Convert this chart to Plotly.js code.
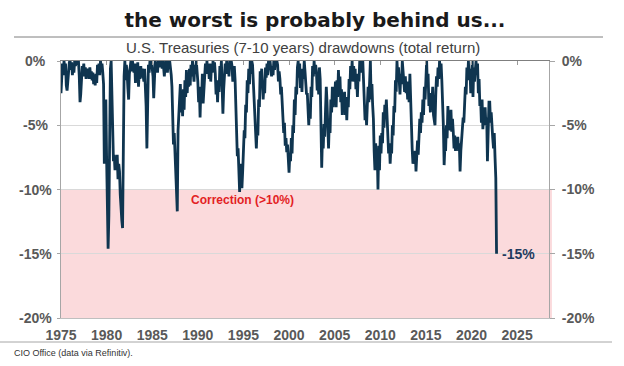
<!DOCTYPE html>
<html><head><meta charset="utf-8">
<script src="https://cdn.plot.ly/plotly-3.0.1.min.js"></script>
<style>html,body{margin:0;padding:0;background:#fff}#chart{width:624px;height:366px}</style>
</head><body><div id="chart"></div>
<script>
// Monthly drawdowns (%), starting January 1975
const dd1975s = [
 -2.5,-1.0,-0.2,-1.1,0,-0.5,-0.2,-1.9,-2.3,-1.6,-0.6,-0.1,
 0,-0.7,-0.1,-1.1,-0.4,-0.9,0,-0.4,0,-0.3,0,0,
 -1.2,-3.2,-2.6,-1.7,-0.4,-0.8,-0.2,-1.2,-0.5,-1.4,-0.6,-1.0,
 -0.6,-1.4,-0.5,-1.2,-0.8,-1.5,-0.9,-1.8,-1.2,-1.9,-1.0,-1.7,
 -0.3,-1.0,-0.2,-1.1,0,-0.5,-0.2,-0.9,-1.8,-8.0,-6.0,-3.0
];
const dd1980s = [
 -7.5,-12.0,-14.6,-12.0,-5.0,-0.6,0,-3.5,-7.3,-7.8,-7.3,-8.5,
 -7.8,-8.4,-7.3,-9.2,-8.0,-8.6,-10.4,-11.8,-12.4,-13.0,-4.0,-1.2,
 0,-1.5,-0.3,-0.9,-2.1,-3.0,-1.0,-0.2,0,-0.8,0,-0.4,
 -0.9,-0.2,-1.7,-0.4,-0.9,-0.1,-2.0,-0.8,-1.4,-0.4,-1.3,-0.6,
 -1.0,-1.6,-0.6,-1.8,-3.5,-6.8,-2.4,-0.3,-0.9,0,-0.5,0,
 -0.6,-1.2,-2.9,-1.0,0,-0.7,-0.1,-0.9,0,-0.5,0,-0.3,
 0,-0.6,0,-0.5,-1.2,-0.3,0,-0.6,-0.9,0,-0.4,0,
 -0.5,-1.1,-2.0,-5.2,-6.5,-5.6,-7.4,-8.1,-10.0,-11.7,-5.4,-4.1,
 -3.0,-1.8,-4.0,-2.6,-4.3,-2.2,-3.8,-1.5,-2.8,-0.7,-2.5,-1.2,
 -2.0,-0.6,-1.9,-0.3,-1.2,0,-0.8,-1.6,-0.3,-1.0,0,-0.6
];
const dd1990s = [
 -1.6,-3.2,-2.0,-4.4,-2.2,-3.0,-1.0,-3.3,-2.1,-1.2,-0.2,-0.9,
 0,-1.0,-0.3,-1.4,-0.2,-1.6,-0.4,-0.9,0,-0.7,-0.1,-1.0,
 -2.6,-1.6,-3.2,-1.5,-2.4,-0.4,-1.2,0,-1.4,-4.1,-2.2,-1.0,
 -0.2,-0.9,0,-1.0,-0.3,-1.2,0,-0.6,0,-0.4,-1.6,-0.8,
 -0.4,-1.5,-3.6,-6.5,-7.4,-6.8,-8.4,-10.2,-8.0,-9.4,-9.9,-8.6,
 -7.0,-5.4,-6.0,-3.4,-4.0,-1.5,-2.5,-0.6,-1.8,0,-1.0,0,
 -0.3,-1.6,-3.4,-4.6,-5.4,-6.8,-5.2,-5.8,-3.0,-3.6,-0.8,-1.5,
 -0.6,-2.0,-3.0,-1.8,-2.5,-0.5,-1.3,-0.2,-1.1,0,-0.6,0,
 -0.5,-1.2,-0.4,-1.1,0,-0.7,0,-0.4,0,-0.3,-1.6,-0.8,
 -1.4,-2.6,-2.0,-3.1,-4.0,-5.6,-4.8,-6.6,-6.0,-7.1,-6.5,-8.4
];
const dd2000s = [
 -8.7,-7.2,-7.8,-6.0,-7.2,-5.0,-5.6,-3.0,-4.2,-2.0,-2.6,-0.5,
 0,-1.3,-0.2,-2.1,-1.0,-2.4,-0.6,-1.4,0,-0.8,-1.6,-2.6,
 -2.5,-4.0,-5.0,-3.4,-4.5,-2.0,-2.8,-0.4,-1.2,0,-1.0,-0.3,
 -0.8,-2.3,-1.2,-2.6,-0.5,-1.4,-4.5,-8.3,-5.8,-6.8,-4.9,-5.9,
 -3.8,-2.0,-3.2,-5.5,-6.8,-4.6,-5.6,-3.0,-4.0,-2.0,-3.6,-2.0,
 -3.0,-1.6,-3.6,-1.5,-2.8,-0.7,-2.3,-1.2,-3.2,-2.2,-4.2,-2.5,
 -3.6,-2.4,-4.2,-3.0,-4.6,-2.8,-3.6,-1.4,-2.2,-0.4,-1.2,0,
 -1.6,-0.4,-1.2,-0.6,-2.2,-1.4,-2.8,-1.0,-1.6,0,-0.8,0,
 -0.9,0,-1.2,-3.5,-4.6,-3.6,-5.0,-3.4,-2.0,-3.2,-0.6,0,
 -3.0,-1.8,-3.4,-4.5,-7.0,-8.5,-6.4,-8.0,-7.0,-10.0,-6.6,-8.5
];
const dd2010s = [
 -5.8,-7.2,-5.6,-6.4,-4.0,-5.2,-3.4,-4.2,-3.0,-4.6,-6.0,-7.2,
 -6.4,-8.0,-6.8,-7.2,-5.0,-5.8,-3.5,-4.0,-1.5,-2.4,0,-1.2,
 -0.5,-2.0,-2.6,-1.0,-1.8,0,-0.8,-1.8,-2.4,-1.2,-2.5,-1.6,
 -3.0,-2.2,-3.2,-1.0,-3.5,-6.0,-6.8,-8.0,-7.2,-7.6,-7.0,-8.6,
 -7.0,-6.2,-7.3,-5.5,-4.5,-5.6,-4.0,-4.8,-3.0,-4.2,-2.0,-3.0,
 -0.5,0,-2.0,-1.0,-3.5,-2.6,-4.0,-2.5,-3.2,-2.0,-4.2,-4.8,
 -5.0,-2.6,-1.2,-2.0,-0.5,-1.4,0,-0.8,-0.2,-1.5,-3.0,-5.0,
 -8.1,-6.6,-7.0,-5.0,-6.0,-3.5,-5.2,-4.0,-5.4,-3.8,-5.5,-4.5,
 -5.5,-6.8,-5.8,-7.0,-6.0,-6.8,-5.9,-7.0,-6.4,-8.6,-7.0,-6.2,
 -5.5,-4.4,-4.8,-3.5,-2.0,-2.6,-0.5,-1.4,0,-1.5,-0.6,-2.5
];
const dd2020s = [
 -1.5,0,-2.8,-0.5,-1.6,-0.3,0,-1.0,-0.2,-2.5,-1.4,-3.5,
 -3.0,-4.8,-3.0,-5.3,-4.2,-4.8,-3.6,-5.0,-4.4,-7.8,-4.0,-3.2,
 -3.2,-4.8,-4.0,-5.5,-6.0,-6.8,-5.6,-7.5,-9.1,-15.0
];
const firstYear = 1975;
const xTickYears = [1975,1980,1985,1990,1995,2000,2005,2010,2015,2020,2025];
const yTickVals = [0,-5,-10,-15,-20];
const yTickText = ['0%','-5%','-10%','-15%','-20%'];
const titleText = 'the worst is probably behind us...';
const subtitleText = 'U.S. Treasuries (7-10 years) drawdowns (total return)';
const sourceText = 'CIO Office (data via Refinitiv).';
const correctionText = 'Correction (>10%)';
const correctionLevel = -10;
const lastLabel = '-15%';

const values = [].concat(dd1975s, dd1980s, dd1990s, dd2000s, dd2010s, dd2020s);
const dates = values.map((v, i) => {
  const y = firstYear + Math.floor(i / 12);
  const m = (i % 12) + 1;
  return y + '-' + (m < 10 ? '0' + m : m) + '-01';
});
const lastDate = dates[dates.length - 1];
const lastValue = values[values.length - 1];

const tickFont = {family: 'Liberation Sans, Arial, sans-serif', size: 14, color: '#595959', weight: 700};
const xRange = ['1975-01-01', '2028-07-01'];
const xTickVals = xTickYears.map(y => y + '-01-01');
const xTickText = xTickYears.map(String);

const traces = [
  {x: dates, y: values, type: 'scatter', mode: 'lines', line: {color: '#0f3550', width: 2.8}, hoverinfo: 'skip', xaxis: 'x', yaxis: 'y'},
  {x: [], y: [], type: 'scatter', mode: 'lines', xaxis: 'x2', yaxis: 'y', hoverinfo: 'skip'},
  {x: [], y: [], type: 'scatter', mode: 'lines', xaxis: 'x', yaxis: 'y2', hoverinfo: 'skip'}
];

const px = v => (v - 61) / 488;   // paper x from pixel
const py = v => (318 - v) / 257;  // paper y from pixel

const annotations = [
  {text: subtitleText, xref: 'paper', yref: 'paper', x: px(303), y: py(48), xanchor: 'center', yanchor: 'middle', showarrow: false,
   font: {family: 'Liberation Sans, Arial, sans-serif', size: 15, color: '#404040'}},
  {text: sourceText, xref: 'paper', yref: 'paper', x: px(12), y: py(353), xanchor: 'left', yanchor: 'middle', showarrow: false,
   font: {family: 'Liberation Sans, Arial, sans-serif', size: 9, color: '#333333'}},
  {text: correctionText, xref: 'paper', yref: 'y', x: px(189), y: -10.8, xanchor: 'left', yanchor: 'middle', showarrow: false,
   font: {family: 'Liberation Sans, Arial, sans-serif', size: 12, color: '#e31e24', weight: 700}},
  {text: lastLabel, xref: 'x', yref: 'y', x: lastDate, y: lastValue, xanchor: 'left', yanchor: 'middle', xshift: 3, showarrow: false,
   font: {family: 'Liberation Sans, Arial, sans-serif', size: 14, color: '#1f3a5f', weight: 700}}
];
yTickVals.forEach((v, i) => {
  annotations.push({text: yTickText[i], xref: 'paper', yref: 'y', x: px(35), y: v, xanchor: 'center', yanchor: 'middle', showarrow: false, font: tickFont});
});

const layout = {
  width: 624, height: 366,
  margin: {l: 61, r: 75, t: 61, b: 48, pad: 0},
  paper_bgcolor: '#ffffff', plot_bgcolor: 'rgba(0,0,0,0)',
  showlegend: false,
  title: {text: titleText, xref: 'container', yref: 'container', x: 315 / 624, xanchor: 'center', y: 1 - 20 / 366, yanchor: 'middle',
          font: {family: 'DejaVu Sans, sans-serif', size: 20, weight: 700, color: '#1a1a1a'}},
  xaxis: {type: 'date', range: xRange, side: 'top', ticks: 'inside', ticklen: 4, tickcolor: '#9a9a9a', tickvals: xTickVals,
          showticklabels: false, showline: true, linecolor: '#7f7f7f', linewidth: 1, showgrid: false, zeroline: false, fixedrange: true},
  xaxis2: {type: 'date', range: xRange, overlaying: 'x', side: 'bottom', anchor: 'y', showline: true, linecolor: '#bfbfbf', ticks: '',
           tickvals: xTickVals, ticktext: xTickText, tickfont: tickFont, showgrid: false, zeroline: false, ticklabelstandoff: 4},
  yaxis: {range: [-20, 0], tickvals: yTickVals, showticklabels: false, ticks: 'outside', ticklen: 3, tickcolor: '#a6a6a6',
          showline: true, linecolor: '#a6a6a6', showgrid: true, gridcolor: '#d9d9d9', gridwidth: 1, zeroline: false},
  yaxis2: {range: [-20, 0], overlaying: 'y', side: 'right', anchor: 'x', tickvals: yTickVals, ticktext: yTickText, ticks: 'outside',
           ticklen: 5, tickcolor: '#a6a6a6', showline: true, linecolor: '#a6a6a6', showgrid: false, zeroline: false,
           tickfont: tickFont, ticklabelstandoff: 4},
  shapes: [
    {type: 'rect', xref: 'paper', yref: 'y', x0: 0, x1: 1.006, y0: correctionLevel, y1: -20, fillcolor: '#fbdadc', line: {width: 0}, layer: 'below'},
    {type: 'line', xref: 'paper', yref: 'paper', x0: px(14), x1: px(603), y0: py(37), y1: py(37), line: {color: '#7f7f7f', width: 1}},
    {type: 'line', xref: 'paper', yref: 'paper', x0: px(0), x1: px(612), y0: py(342), y1: py(342), line: {color: '#a6a6a6', width: 1}}
  ],
  annotations: annotations
};

Plotly.newPlot('chart', traces, layout, {staticPlot: true, displayModeBar: false});
</script>
</body></html>
